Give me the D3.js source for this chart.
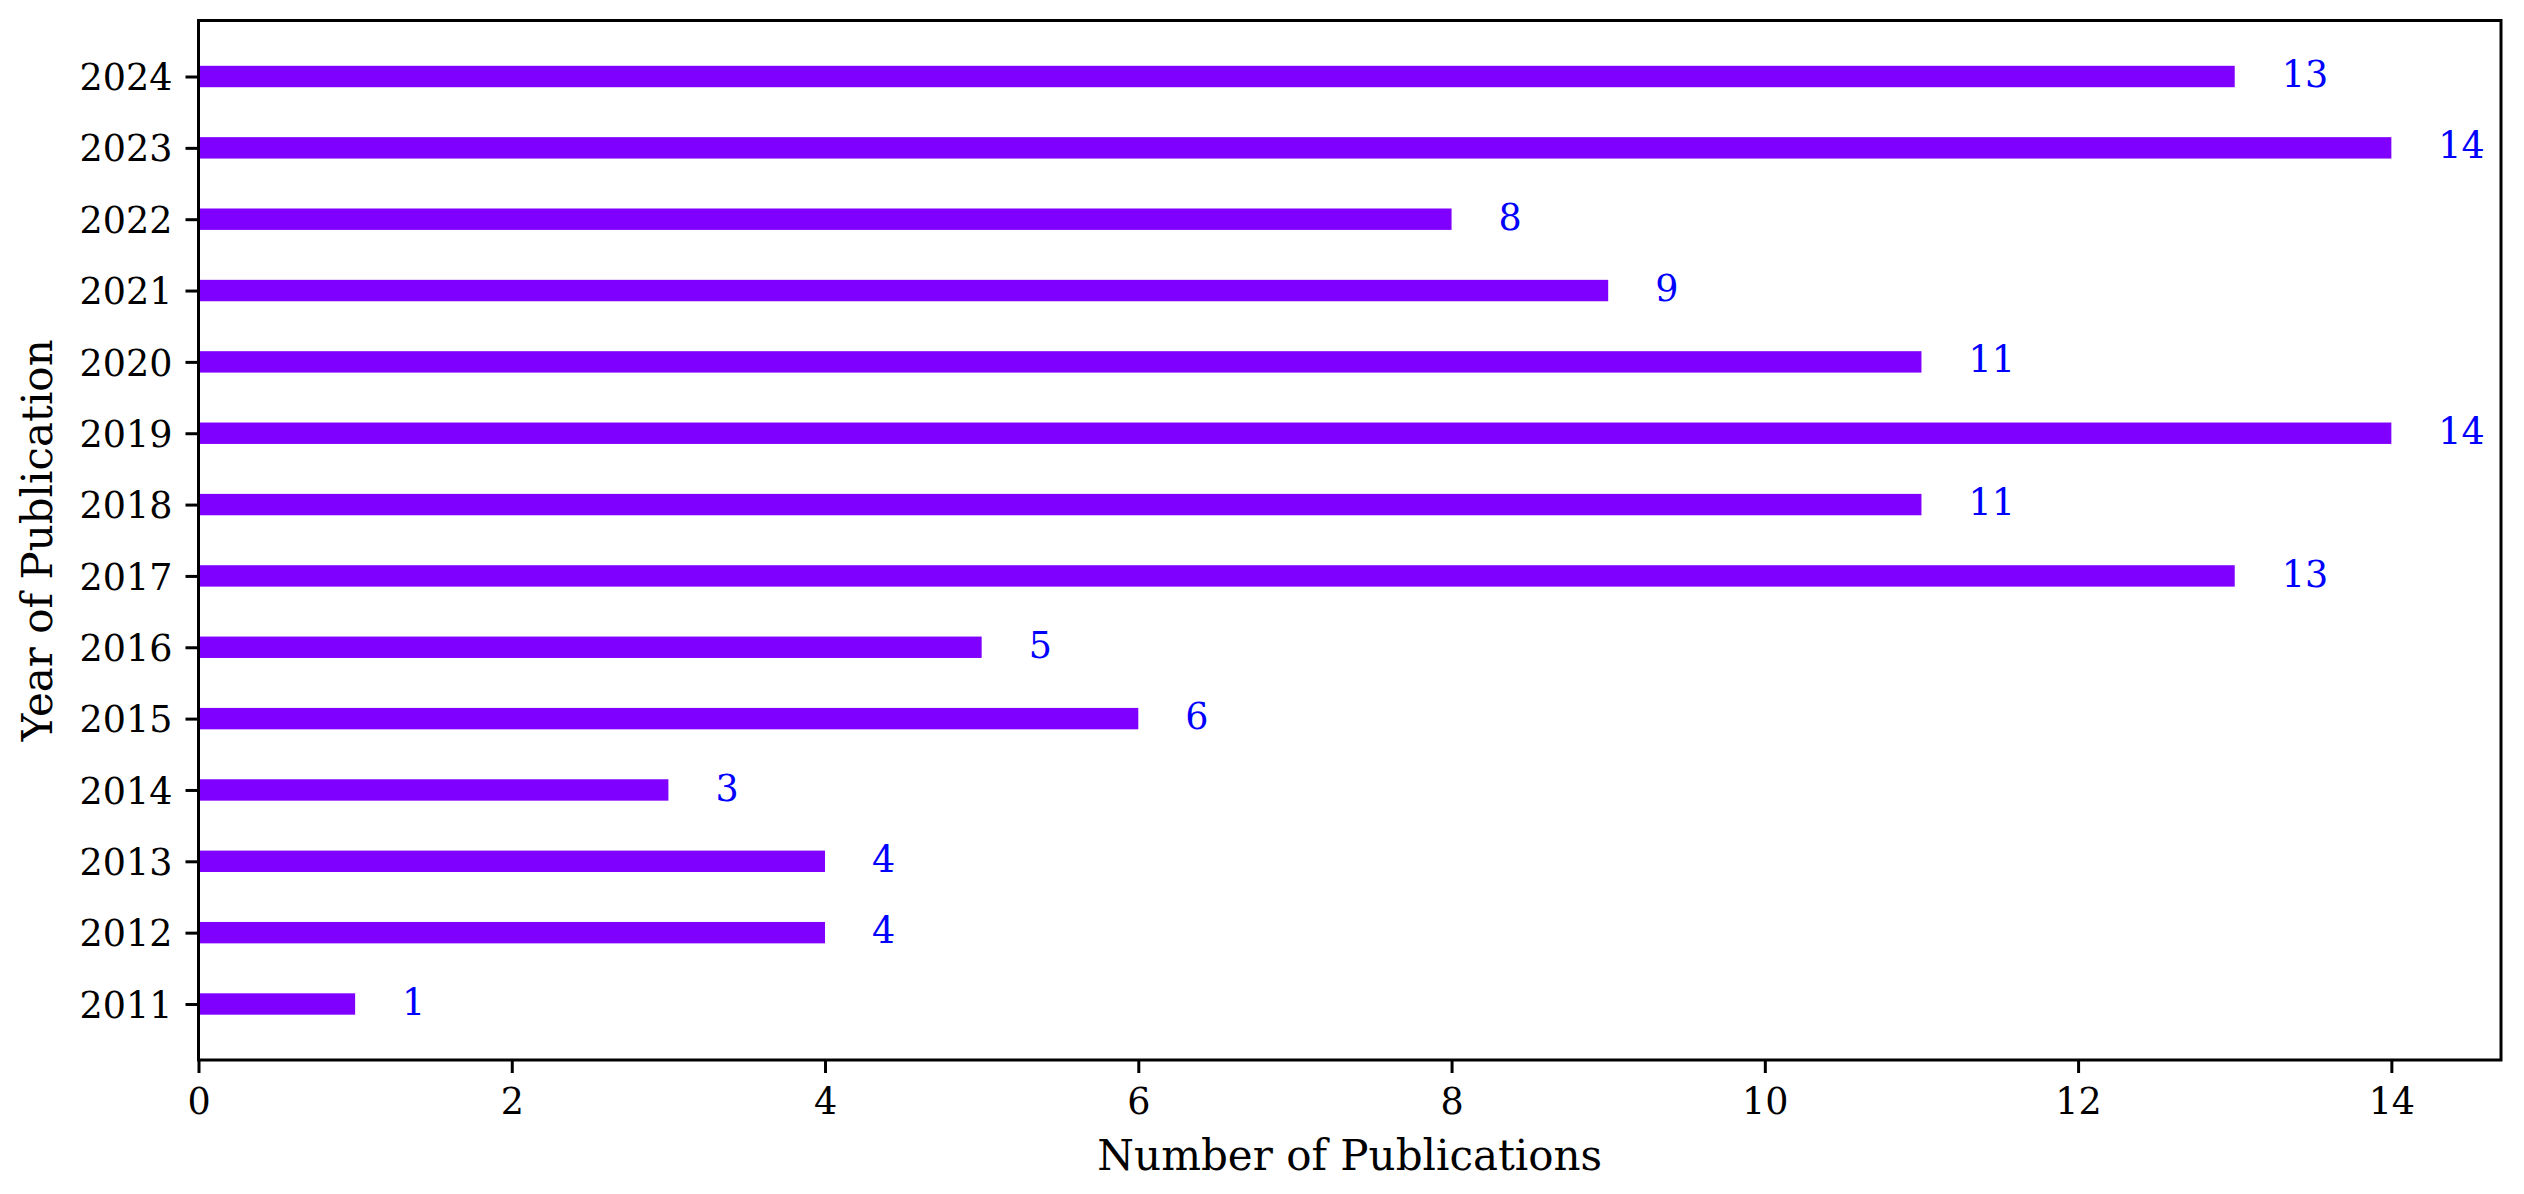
<!DOCTYPE html>
<html>
<head>
<meta charset="utf-8">
<script src="https://cdn.jsdelivr.net/npm/d3@7"></script>
<style>
  html, body { margin: 0; padding: 0; background: #fff; }
  svg { display: block; }
  text { font-family: "DejaVu Serif", serif; }
</style>
</head>
<body>
<svg id="chart" width="2524" height="1194"></svg>
<script>
const years = ["2011","2012","2013","2014","2015","2016","2017","2018","2019","2020","2021","2022","2023","2024"];
const counts = [1, 4, 4, 3, 6, 5, 13, 11, 14, 11, 9, 8, 14, 13];
const xTicks = [0, 2, 4, 6, 8, 10, 12, 14];
const xLabel = "Number of Publications";
const yLabel = "Year of Publication";

const svg = d3.select("#chart");
const mLeft = 198.5, mRight = 2501, mTop = 20.5, mBottom = 1060;
const tickFont = 36.5, labelFont = 42;
const barColor = "#7f00ff";

const x = d3.scaleLinear().domain([0, 14.7]).range([mLeft, mRight]);
const y = d3.scaleLinear().domain([-0.785, years.length - 1 + 0.785]).range([mBottom, mTop]);
const unit = Math.abs(y(1) - y(0));
const barH = 0.3 * unit;

// bars
svg.append("g").selectAll("rect").data(counts).join("rect")
  .attr("x", x(0))
  .attr("y", (d, i) => y(i) - barH / 2)
  .attr("width", d => x(d) - x(0))
  .attr("height", barH)
  .attr("fill", barColor);

// value labels
svg.append("g").selectAll("text").data(counts).join("text")
  .attr("x", d => x(d + 0.3))
  .attr("y", (d, i) => y(i))
  .attr("dy", "0.29em")
  .attr("font-size", tickFont)
  .attr("fill", "#0000ff")
  .text(d => d);

// x axis
const xAxis = d3.axisBottom(x).tickValues(xTicks).tickSize(13).tickPadding(13).tickFormat(d3.format("d"));
const gx = svg.append("g").attr("transform", `translate(0,${mBottom})`).call(xAxis);
gx.select(".domain").remove();
gx.selectAll(".tick line").attr("stroke", "#000").attr("stroke-width", 3);
gx.selectAll(".tick text").attr("font-size", tickFont).attr("font-family", "DejaVu Serif").attr("fill", "#000")
  .attr("y", 26).attr("dy", "0.76em");

// y axis
const yAxis = d3.axisLeft(y).tickValues(d3.range(years.length)).tickSize(13).tickPadding(13).tickFormat(i => years[i]);
const gy = svg.append("g").attr("transform", `translate(${mLeft},0)`).call(yAxis);
gy.select(".domain").remove();
gy.selectAll(".tick line").attr("stroke", "#000").attr("stroke-width", 3);
gy.selectAll(".tick text").attr("font-size", tickFont).attr("font-family", "DejaVu Serif").attr("fill", "#000")
  .attr("dy", "0.36em");

// frame
svg.append("rect")
  .attr("x", mLeft).attr("y", mTop)
  .attr("width", mRight - mLeft).attr("height", mBottom - mTop)
  .attr("fill", "none").attr("stroke", "#000").attr("stroke-width", 3);

// axis labels
svg.append("text")
  .attr("x", (mLeft + mRight) / 2).attr("y", 1170)
  .attr("text-anchor", "middle").attr("font-size", labelFont).attr("fill", "#000")
  .text(xLabel);

svg.append("text")
  .attr("transform", `translate(52,${(mTop + mBottom) / 2}) rotate(-90)`)
  .attr("text-anchor", "middle").attr("font-size", labelFont).attr("fill", "#000")
  .text(yLabel);
</script>
</body>
</html>
